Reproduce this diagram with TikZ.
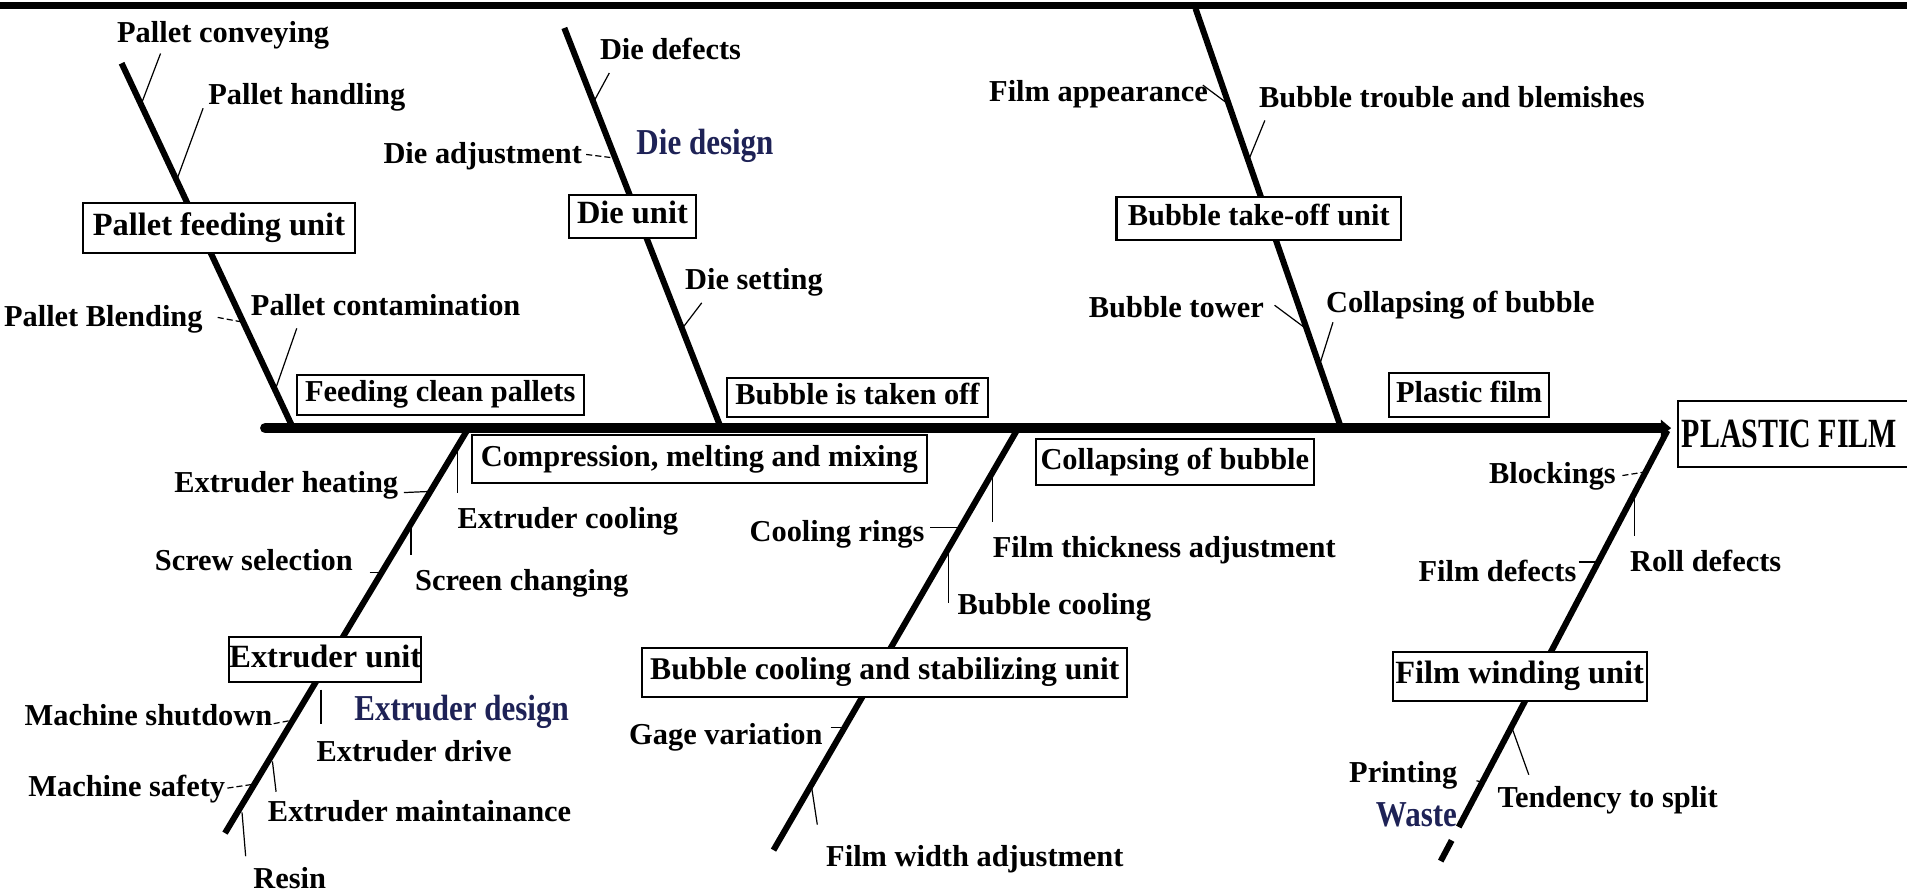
\documentclass[tikz,border=0pt]{standalone}
\usepackage{fontspec}
\setmainfont{Liberation Serif}
\usepackage{graphicx}
\usetikzlibrary{arrows.meta}
\definecolor{navy}{RGB}{30,34,86}
\newdimen\pxu \pxu=0.6pt
\begin{document}
\begin{tikzpicture}[x=0.6pt,y=-0.6pt,
  bone/.style={line width=3pt},
  spine/.style={line width=5pt},
  leader/.style={line width=0.6pt},
  dleader/.style={line width=0.6pt, dash pattern=on 3pt off 1.5pt},
  lbl/.style={font=\bfseries\fontsize{15}{18}\selectfont, inner sep=0pt, anchor=west, text height=10.5pt, text depth=3.3pt, yshift=-1.3pt},
  bx/.style={draw, line width=1pt, fill=white, font=\bfseries\fontsize{15}{18}\selectfont, inner sep=0pt, text height=10.5pt, text depth=3.3pt},
  dsg/.style={text=navy, inner sep=0pt, anchor=west, font=\bfseries\fontsize{18}{20}\selectfont, yshift=-1.2pt}
]
\useasboundingbox (0,0) rectangle (1568,733);
% top bar
\fill (0,2) rectangle (1568,7.5);

% bone end points
\coordinate (b1t) at (100,52);   \coordinate (b1s) at (240,350);
\coordinate (b2t) at (464,23);   \coordinate (b2s) at (592,350);
\coordinate (b3t) at (983,7);    \coordinate (b3s) at (1102,350);
\coordinate (b4s) at (384,354);  \coordinate (b4b) at (185,685);
\coordinate (b5s) at (836,354);  \coordinate (b5b) at (636,699);
\coordinate (b6s) at (1371,354); \coordinate (b6m) at (1199.4,680);
\coordinate (b6g) at (1193.6,691); \coordinate (b6b) at (1184.6,708);
\coordinate (s0) at (218,352);   \coordinate (s1) at (1374,352);

% labels
\node[lbl] (pconv) at (96,27) {Pallet conveying};
\node[lbl] (phand) at (171,78) {Pallet handling};
\node[lbl] (pblend) at (3,260) {Pallet Blending};
\node[lbl] (pcont) at (206,251) {Pallet contamination};
\node[lbl] (ddef) at (493,41) {Die defects};
\node[lbl] (dadj) at (315,126) {Die adjustment};
\node[lbl] (dset) at (563,230) {Die setting};
\node[lbl] (fapp) at (813,75) {Film appearance};
\node[lbl] (btrb) at (1035,80) {Bubble trouble and blemishes};
\node[lbl] (btow) at (895,253) {Bubble tower};
\node[lbl] (colb) at (1090,249) {Collapsing of bubble};
\node[lbl] (exh) at (143,397) {Extruder heating};
\node[lbl] (exc) at (376,426) {Extruder cooling};
\node[lbl] (scr) at (127,461) {Screw selection};
\node[lbl] (scn) at (341,477) {Screen changing};
\node[lbl] (msh) at (20,588) {Machine shutdown};
\node[lbl] (exd) at (260,618) {Extruder drive};
\node[lbl] (msf) at (23,647) {Machine safety};
\node[lbl] (exm) at (220,667) {Extruder maintainance};
\node[lbl] (res) at (208,722) {Resin};
\node[lbl] (crg) at (616,437) {Cooling rings};
\node[lbl] (fta) at (816,450) {Film thickness adjustment};
\node[lbl] (bcl) at (787,497) {Bubble cooling};
\node[lbl] (gage) at (517,604) {Gage variation};
\node[lbl] (fwa) at (679,704) {Film width adjustment};
\node[lbl] (blk) at (1224,389) {Blockings};
\node[lbl] (rdf) at (1340,462) {Roll defects};
\node[lbl] (fdf) at (1166,470) {Film defects};
\node[lbl] (tts) at (1231,656) {Tendency to split};
\node[lbl] (prt) at (1109,635) {Printing};
\node[dsg] (ddes) at (523,118) {\scalebox{0.85}[1]{Die design}};
\node[dsg] (edes) at (291,583) {\scalebox{0.85}[1]{Extruder design}};
\node[dsg] (wst) at (1131,668) {\scalebox{0.85}[1]{Waste}};

% leader end points
\coordinate (k1a) at (132,44);   \coordinate (k1b) at (116,86);
\coordinate (k2a) at (167,89);   \coordinate (k2b) at (145.3,148);
\coordinate (k3a) at (179,261);  \coordinate (k3b) at (200.4,265);
\coordinate (k4a) at (244,270);  \coordinate (k4b) at (226.5,320);
\coordinate (k5a) at (501,60);   \coordinate (k5b) at (488,84);
\coordinate (k6a) at (482,127);  \coordinate (k6b) at (506,130);
\coordinate (k7a) at (577,249);  \coordinate (k7b) at (561,270);
\coordinate (k8a) at (989,70);   \coordinate (k8b) at (1010.5,86);
\coordinate (k9a) at (1040,99);  \coordinate (k9b) at (1026.5,132);
\coordinate (k10a) at (1048,251); \coordinate (k10b) at (1074.9,271);
\coordinate (k11a) at (1096,265); \coordinate (k11b) at (1085,300);
\coordinate (k12a) at (332,405); \coordinate (k12b) at (355,404);
\coordinate (k13a) at (376,372); \coordinate (k13b) at (376,405);
\coordinate (k14a) at (304,471); \coordinate (k14b) at (314.4,471);
\coordinate (k15a) at (338,432); \coordinate (k15b) at (338,456);
\coordinate (k16a) at (225,595); \coordinate (k16b) at (241.2,592);
\coordinate (k17a) at (264,567); \coordinate (k17b) at (264,595);
\coordinate (k18a) at (187,648); \coordinate (k18b) at (207.2,645);
\coordinate (k19a) at (224,626); \coordinate (k19b) at (227,651);
\coordinate (k20a) at (199,668); \coordinate (k20b) at (202,704);
\coordinate (k21a) at (765,434); \coordinate (k21b) at (790,434);
\coordinate (k22a) at (816,392); \coordinate (k22b) at (816,429);
\coordinate (k23a) at (779.6,452.7); \coordinate (k23b) at (779.6,496);
\coordinate (k24a) at (683,598); \coordinate (k24b) at (695,598);
\coordinate (k25a) at (667,645); \coordinate (k25b) at (672,678);
\coordinate (k26a) at (1334,391); \coordinate (k26b) at (1353,388);
\coordinate (k27a) at (1344,405.4); \coordinate (k27b) at (1344,441);
\coordinate (k28a) at (1298,462); \coordinate (k28b) at (1314,462);
\coordinate (k29a) at (1243,598); \coordinate (k29b) at (1257,637);
\coordinate (k30a) at (1214,642); \coordinate (k30b) at (1219,643);

% leaders
\foreach \k in {1,2,4,5,7,8,9,10,11,12,13,14,15,17,19,20,21,22,23,24,25,27,28,29,30}
  \draw[leader] (k\k a) -- (k\k b);
\foreach \k in {3,6,16,18,26}
  \draw[dleader] (k\k a) -- (k\k b);

% bones
\draw[bone] (b1t) -- (b1s);
\draw[bone] (b2t) -- (b2s);
\draw[bone] (b3t) -- (b3s);
\draw[bone] (b4s) -- (b4b);
\draw[bone] (b5s) -- (b5b);
\draw[bone] (b6s) -- (b6m);
\draw[bone] (b6g) -- (b6b);
% spine
\draw[spine, line cap=round, -{Triangle[length=5pt,width=8pt]}] (s0) -- (s1);

% boxes
\node[bx, minimum width=224\pxu, minimum height=41\pxu, font=\bfseries\fontsize{16}{18}\selectfont] (pfu) at (180,187.5) {Pallet feeding unit};
\node[bx, minimum width=236\pxu, minimum height=33\pxu] (fcp) at (362,324.5) {Feeding clean pallets};
\node[bx, minimum width=104\pxu, minimum height=36\pxu, font=\bfseries\fontsize{16}{18}\selectfont] (du) at (520,178) {Die unit};
\node[bx, minimum width=214\pxu, minimum height=32\pxu] (bto) at (705,327) {Bubble is taken off};
\node[bx, minimum width=234\pxu, minimum height=35\pxu] (btu) at (1035,179.5) {Bubble take-off unit};
\node[bx, minimum width=132\pxu, minimum height=36\pxu] (plf) at (1208,325) {Plastic film};
\node[bx, minimum width=374\pxu, minimum height=39\pxu] (cmm) at (575,377.5) {Compression, melting and mixing};
\node[bx, minimum width=228\pxu, minimum height=38\pxu] (cob) at (966,380) {Collapsing of bubble};
\node[bx, minimum width=157\pxu, minimum height=37\pxu, font=\bfseries\fontsize{16}{18}\selectfont] (eu) at (267.5,542.5) {Extruder unit};
\node[bx, minimum width=399\pxu, minimum height=40\pxu, font=\bfseries\fontsize{15.6}{18}\selectfont] (bcs) at (727.5,553) {Bubble cooling and stabilizing unit};
\node[bx, minimum width=209\pxu, minimum height=40\pxu, font=\bfseries\fontsize{16}{18}\selectfont] (fwu) at (1249.5,556) {Film winding unit};
\node[draw, line width=1pt, fill=white, anchor=west, minimum height=54\pxu, inner xsep=0pt, inner ysep=0pt] (pfilm) at (1379,357)
  {\hspace*{3\pxu}\scalebox{0.72}[1]{\fontsize{20.5}{24}\selectfont\bfseries PLASTIC FILM}\hspace*{40\pxu}};
\end{tikzpicture}
\end{document}
